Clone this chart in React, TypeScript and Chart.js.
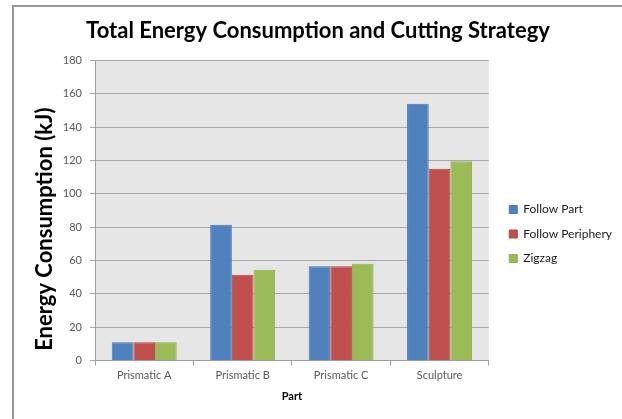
import React, { useEffect, useRef } from "react";
import { Chart, registerables } from "chart.js";

Chart.register(...registerables);

const categories = ["Prismatic A", "Prismatic B", "Prismatic C", "Sculpture"];
const followPart = [11, 81.5, 56.5, 154];
const followPeriphery = [11, 51.5, 56.5, 115];
const zigzag = [11, 54.5, 58, 119.5];
const yTicks = [0, 20, 40, 60, 80, 100, 120, 140, 160, 180];

const plotBg = {
  id: "plotBg",
  beforeDraw(chart: any) {
    const { ctx, chartArea } = chart;
    ctx.save();
    ctx.fillStyle = "#e6e6e6";
    ctx.fillRect(chartArea.left, chartArea.top, chartArea.right - chartArea.left, chartArea.bottom - chartArea.top);
    ctx.restore();
  },
};

export default function App() {
  const ref = useRef<HTMLCanvasElement>(null);
  useEffect(() => {
    if (!ref.current) return;
    const font = "Lato";
    const chart = new Chart(ref.current, {
      type: "bar",
      data: {
        labels: categories,
        datasets: [
          { label: "Follow Part", data: followPart, backgroundColor: "#4f81bd", borderColor: "#4577b2", borderWidth: 1 },
          { label: "Follow Periphery", data: followPeriphery, backgroundColor: "#c0504d", borderColor: "#b54744", borderWidth: 1 },
          { label: "Zigzag", data: zigzag, backgroundColor: "#9bbb59", borderColor: "#8fb04d", borderWidth: 1 },
        ],
      },
      plugins: [plotBg],
      options: {
        responsive: false,
        animation: false,
        layout: { padding: { left: 14, right: 0, top: 0, bottom: 10 } },
        datasets: { bar: { categoryPercentage: 0.66, barPercentage: 1 } },
        plugins: {
          title: {
            display: true,
            text: "Total Energy Consumption and Cutting Strategy",
            color: "#000",
            font: { family: font, size: 22, weight: "bold" },
            padding: { top: 18, bottom: 16 },
          },
          legend: {
            position: "right",
            maxWidth: 200,
            title: { display: true, text: " ", font: { family: font, size: 10 }, padding: { top: 47, bottom: 0 } },
            labels: {
              boxWidth: 8,
              boxHeight: 8,
              padding: 12.5,
              color: "#1a1a1a",
              font: { family: font, size: 12 },
            },
          },
          tooltip: { enabled: false },
        },
        scales: {
          x: {
            grid: { offset: true, drawOnChartArea: false, drawTicks: true, tickLength: 5, color: "#a0a0a0" },
            border: { display: true, color: "#a0a0a0" },
            ticks: { color: "#595959", padding: 3, font: { family: font, size: 11 } },
            title: {
              display: true,
              text: "Part",
              color: "#000",
              font: { family: font, size: 11, weight: "bold" },
              padding: { top: 5, bottom: 6 },
            },
          },
          y: {
            min: 0,
            max: 180,
            afterBuildTicks: (s: any) => {
              s.ticks = yTicks.map((v) => ({ value: v }));
            },
            afterFit: (s: any) => {
              s.width = 81;
            },
            grid: { color: "#a8a8a8", tickLength: 5 },
            border: { display: true, color: "#a0a0a0" },
            ticks: { color: "#595959", padding: 8, font: { family: font, size: 11 } },
            title: {
              display: true,
              text: "Energy Consumption (kJ)       ",
              color: "#000",
              font: { family: font, size: 22, weight: "bold" },
              padding: { top: 18, bottom: 0 },
            },
          },
          gap: {
            type: "linear",
            position: "right",
            display: true,
            grid: { display: false },
            ticks: { display: false },
            border: { display: false },
            afterFit: (s: any) => {
              s.width = 8;
            },
          },
        },
      } as any,
    });
    return () => chart.destroy();
  }, []);

  return (
    <div style={{ position: "absolute", left: 0, top: 0, width: 622, height: 419, background: "#fff" }}>
      <canvas ref={ref} width={622} height={419} style={{ position: "absolute", left: 0, top: 0 }} />
      <div
        style={{
          position: "absolute",
          left: 12,
          top: 5,
          right: 0,
          bottom: 0,
          borderLeft: "2px solid #9a9a9a",
          borderTop: "2px solid #9a9a9a",
          pointerEvents: "none",
        }}
      />
    </div>
  );
}
